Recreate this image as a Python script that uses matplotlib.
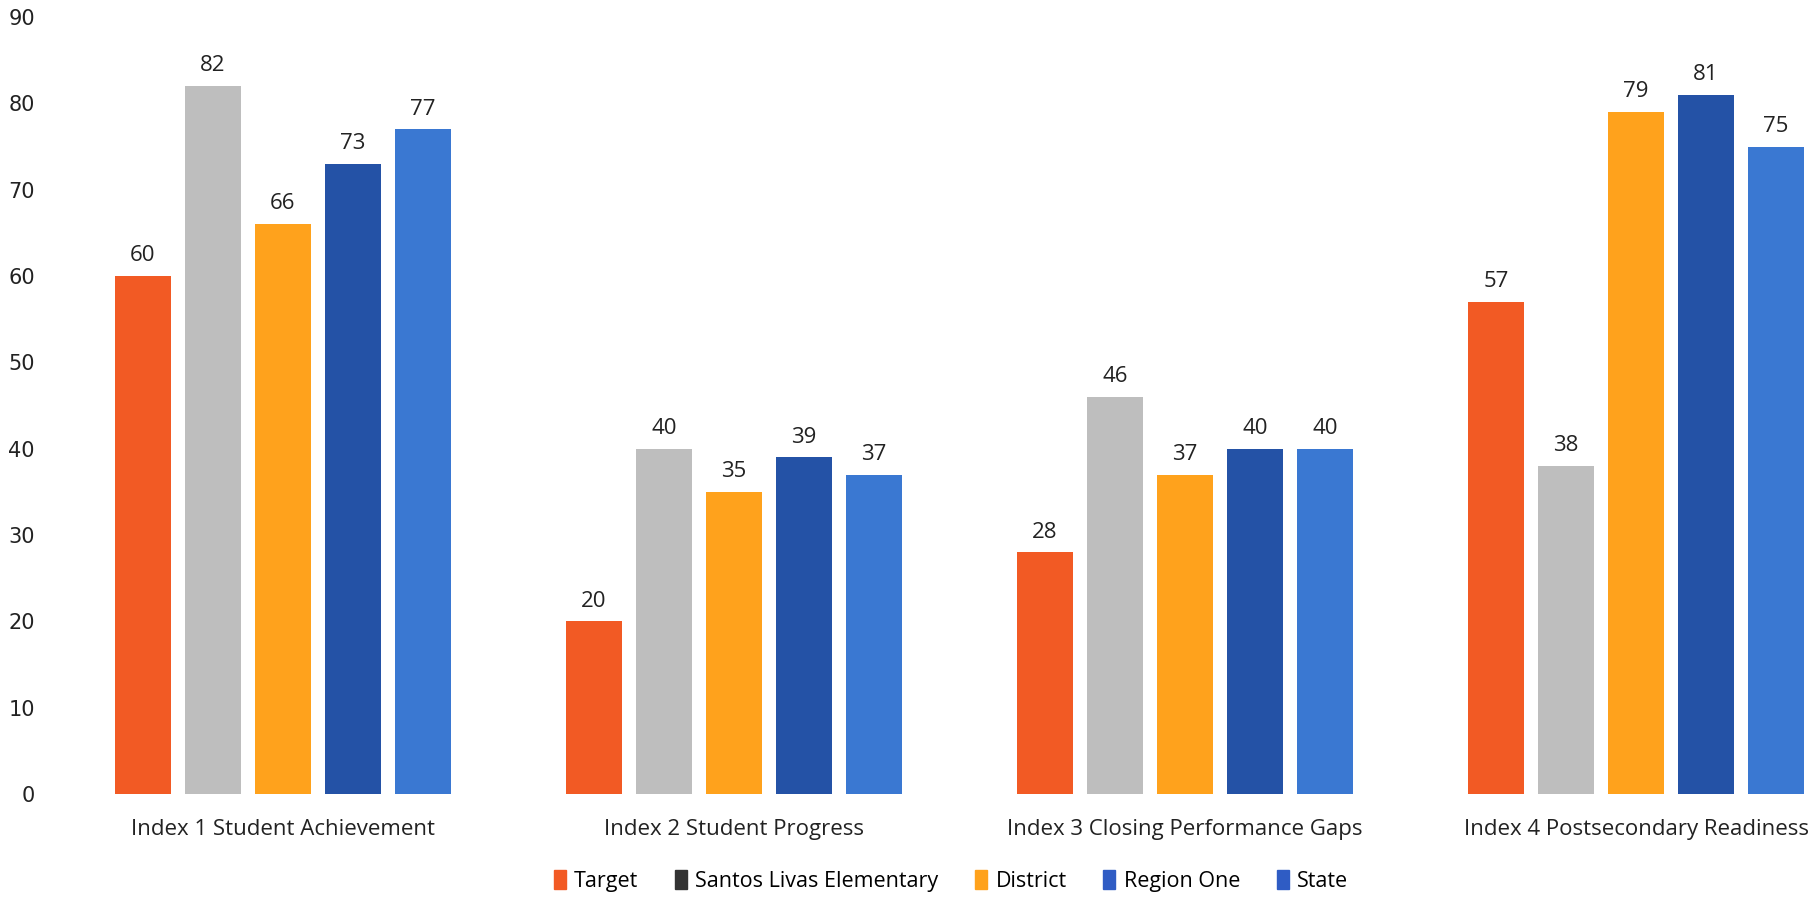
import matplotlib
matplotlib.use("Agg")
import matplotlib.pyplot as plt
import numpy as np
from matplotlib.patches import Patch

categories = ["Index 1 Student Achievement", "Index 2 Student Progress",
              "Index 3 Closing Performance Gaps", "Index 4 Postsecondary Readiness"]
series_names = ["Target", "Santos Livas Elementary", "District", "Region One", "State"]
target = [60, 20, 28, 57]
santos = [82, 40, 46, 38]
district = [66, 35, 37, 79]
region_one = [73, 39, 40, 81]
state = [77, 37, 40, 75]
yticks = [0, 10, 20, 30, 40, 50, 60, 70, 80, 90]

series_values = [target, santos, district, region_one, state]
colors = ["#F25A24", "#BEBEBE", "#FFA21C", "#2452A6", "#3A78D2"]
legend_colors = ["#F25A24", "#333333", "#FFA21C", "#2F5CC4", "#2F5CC4"]

plt.rcParams['font.family'] = ['Open Sans', 'DejaVu Sans']

W, H = 1818, 899
fig = plt.figure(figsize=(W / 100, H / 100), dpi=100)
left_px, right_px = 60, 1818
bottom_px, top_px = 794, 17
ax = fig.add_axes([left_px / W, (H - bottom_px) / H, (right_px - left_px) / W, (bottom_px - top_px) / H])

x0_px, spacing_px = 283, 451
ax.set_xlim((left_px - x0_px) / spacing_px, (right_px - x0_px) / spacing_px)
ax.set_ylim(0, 90)

x = np.arange(len(categories))
pitch = 70 / spacing_px
width = 56 / spacing_px
for i, (vals, c) in enumerate(zip(series_values, colors)):
    pos = x + (i - 2) * pitch
    bars = ax.bar(pos, vals, width=width, color=c, label=series_names[i])
    for b, v in zip(bars, vals):
        ax.annotate(f"{v}", (b.get_x() + b.get_width() / 2, v), xytext=(0, 7),
                    textcoords="offset points", ha="center", va="bottom",
                    fontsize=16, color="#222222")

ax.set_xticks(x)
ax.set_xticklabels(categories, fontsize=16, color="#222222")
ax.tick_params(axis="x", length=0, pad=18)
ax.set_yticks(yticks)
ax.set_yticklabels([str(t) for t in yticks], fontsize=15, color="#222222",
                   family=['DejaVu Sans'])
ax.tick_params(axis="y", length=0, pad=18)
for s in ax.spines.values():
    s.set_visible(False)

handles = [Patch(color=c) for c in legend_colors]
fig.legend(handles, series_names, loc="center", bbox_to_anchor=(951 / W, (H - 881) / H),
           ncol=5, frameon=False, fontsize=15.5, handlelength=0.55, handleheight=1.0,
           handletextpad=0.4, columnspacing=1.7)

fig.savefig("out.png", dpi=100, facecolor="white")
